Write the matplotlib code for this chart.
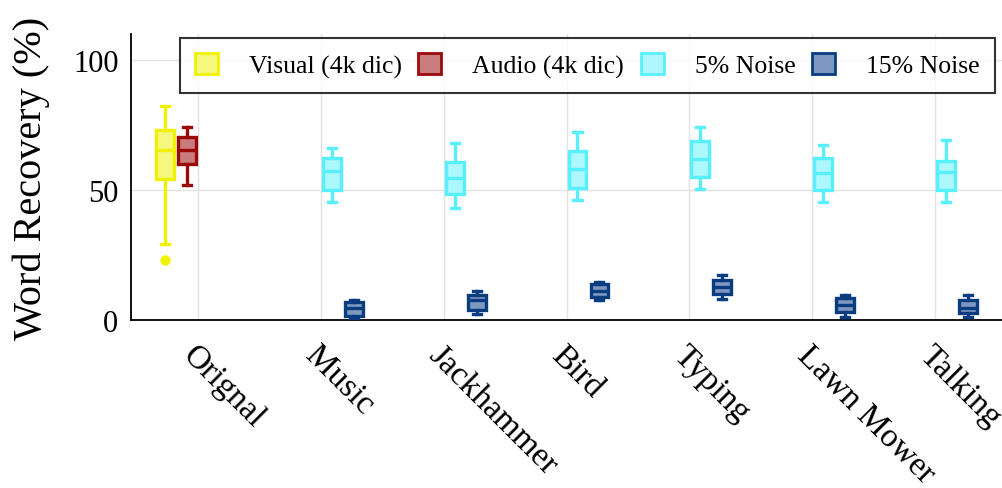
import matplotlib
matplotlib.use("Agg")
import matplotlib.pyplot as plt
from matplotlib.patches import Patch
import numpy as np

plt.rcParams['font.family'] = ['Liberation Serif', 'DejaVu Serif']

categories = ["Orignal", "Music", "Jackhammer", "Bird", "Typing", "Lawn Mower", "Talking"]
series = ["Visual (4k dic)", "Audio (4k dic)", "5% Noise", "15% Noise"]

# Box stats per series: (category index, whislo, q1, med, q3, whishi, outliers)
visual_stats = [(0, 29.2, 54.2, 65.4, 73.0, 82.3, [23.0])]
audio_stats = [(0, 52.0, 60.0, 65.4, 70.4, 74.2, [])]
noise5_stats = [
    (1, 45.4, 50.0, 57.2, 62.3, 66.3, []),
    (2, 43.2, 48.5, 54.6, 60.9, 68.2, []),
    (3, 46.3, 50.8, 58.1, 64.9, 72.2, []),
    (4, 50.3, 54.9, 61.9, 68.7, 74.4, []),
    (5, 45.3, 50.0, 56.5, 62.2, 67.3, []),
    (6, 45.3, 50.0, 56.8, 61.3, 69.2, []),
]
noise15_stats = [
    (1, 0.9, 1.6, 4.6, 6.8, 7.8, []),
    (2, 2.2, 4.0, 7.8, 9.7, 11.3, []),
    (3, 7.8, 8.7, 11.3, 13.8, 14.5, []),
    (4, 8.2, 10.0, 12.6, 15.5, 17.4, []),
    (5, 1.3, 2.9, 5.9, 8.5, 9.5, []),
    (6, 1.3, 2.6, 4.6, 7.7, 9.5, []),
]

edge_colors = ["#eef200", "#9a0a0a", "#58f0ff", "#0a3d80"]
fill_colors = ["#f5f77f", "#c97c7c", "#adf7ff", "#7f98bf"]

all_stats = [visual_stats, audio_stats, noise5_stats, noise15_stats]

fig = plt.figure(figsize=(10.02, 4.89), dpi=100)
ax = fig.add_axes([131 / 1002, 1 - 321 / 489, 1 - 131 / 1002, (321 - 35) / 489])

x = np.arange(1, len(categories) + 1)
slot = 0.179
offsets = [-1.5 * slot, -0.5 * slot, 0.5 * slot, 1.5 * slot]
bw = 0.145

for s_idx, stats in enumerate(all_stats):
    ec = edge_colors[s_idx]
    fc = fill_colors[s_idx]
    bstats = []
    pos = []
    for (ci, lo, q1, med, q3, hi, fl) in stats:
        bstats.append(dict(whislo=lo, q1=q1, med=med, q3=q3, whishi=hi, fliers=fl))
        pos.append(x[ci] + offsets[s_idx])
    ax.bxp(bstats, positions=pos, widths=bw, capwidths=bw * 0.45, patch_artist=True,
           showfliers=True,
           boxprops=dict(facecolor=fc, edgecolor=ec, linewidth=2.4),
           medianprops=dict(color=ec, linewidth=2.4),
           whiskerprops=dict(color=ec, linewidth=2.4),
           capprops=dict(color=ec, linewidth=2.4),
           flierprops=dict(marker='o', markerfacecolor=ec, markeredgecolor=ec, markersize=6.5),
           manage_ticks=False, zorder=3)

ax.set_xlim(0.455, 7.545)
ax.set_ylim(0, 110)
ax.set_yticks([0, 50, 100])
ax.set_xticks(x)
ax.set_xticklabels(categories, rotation=-45, ha='left', va='top', rotation_mode='anchor',
                   fontsize=24)
ax.tick_params(axis='y', labelsize=22, length=0, pad=9)
ax.tick_params(axis='x', length=0, pad=14)
ax.grid(True, color='#e3e3e3', linewidth=1.0, zorder=0)
ax.set_axisbelow(True)
for sp in ['top', 'right']:
    ax.spines[sp].set_visible(False)
ax.spines['left'].set_linewidth(1.3)
ax.spines['bottom'].set_linewidth(1.3)
ax.set_ylabel("Word Recovery (%)", fontsize=29)
ax.yaxis.label.set_verticalalignment('center')
ax.yaxis.set_label_coords((31 - 131) / 871, 0.5)

handles = [Patch(facecolor=fill_colors[i], edgecolor=edge_colors[i], linewidth=2.0, label=series[i])
           for i in range(4)]
leg = ax.legend(handles=handles, ncol=4, loc='upper right', bbox_to_anchor=(0.996, 1.0),
                fontsize=18.5, frameon=True, fancybox=False, edgecolor='black',
                handlelength=0.9, handleheight=0.9, handletextpad=1.2, columnspacing=0.65,
                borderpad=0.58, borderaxespad=0.15)
leg.get_frame().set_linewidth(1.5)

fig.savefig("out.png", dpi=100)
